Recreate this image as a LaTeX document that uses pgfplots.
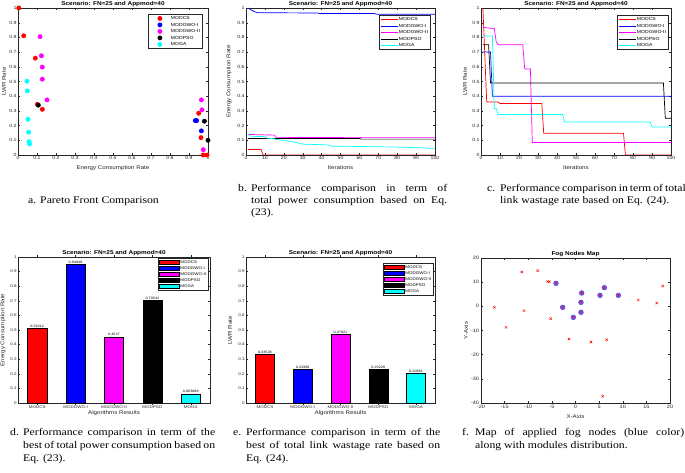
\documentclass[border=0pt]{standalone}
\usepackage{fontspec}
\setmainfont{Liberation Serif}[FakeStretch=1.15]
\setsansfont{Liberation Sans}[FakeStretch=1.15]
\usepackage{pgfplots}
\pgfplotsset{compat=1.18}
\newcommand\tickf{\sffamily\fontsize{4.5}{5}\selectfont}
\newcommand\tickfs{\sffamily\fontsize{3.9}{4.5}\selectfont}
\newcommand\tickfl{\sffamily\fontsize{4.8}{5.5}\selectfont}
\newcommand\labf{\sffamily\fontsize{5.4}{6}\selectfont}
\newcommand\titf{\sffamily\bfseries\fontsize{5.6}{6.5}\selectfont}
\newcommand\legf{\sffamily\fontsize{4.4}{5}\selectfont}
\newcommand\legfs{\sffamily\fontsize{3.9}{4.5}\selectfont}
\newcommand\valf{\sffamily\fontsize{3.3}{4}\selectfont}
\newcommand\capf{\rmfamily\fontsize{10.2}{12}\selectfont}
\definecolor{axgray}{gray}{0.15}
\definecolor{mred}{rgb}{1,0,0}
\definecolor{mblue}{rgb}{0,0,1}
\definecolor{mmag}{rgb}{1,0,1}
\definecolor{mcyan}{rgb}{0,1,1}
\definecolor{mcirc}{rgb}{0.42,0.42,0.95}
\pgfplotsset{
  mat/.style={
    scale only axis,
    axis line style={draw=axgray, line width=0.4pt},
    every tick/.style={draw=axgray, line width=0.35pt},
    major tick length=2pt,
    tick align=inside,
    ticklabel style={font=\tickf, text=axgray},
    /pgf/number format/assume math mode=true,
    xticklabel style={inner sep=1pt},
    yticklabel style={inner sep=1.2pt},
    label style={font=\labf, text=axgray},
    every axis title shift=0pt,
    title style={font=\titf, inner sep=0pt, yshift=1.5pt},
    legend style={font=\legf, draw=axgray, line width=0.35pt, inner sep=1pt, row sep=0pt,
       nodes={inner sep=0.9pt, text height=3.6pt, text depth=1.1pt}, cells={anchor=west}},
  },
}
\begin{document}
\begin{tikzpicture}[x=1pt,y=1pt]
\useasboundingbox (0,0) rectangle (685,-473);
% ---------------- a ----------------
\begin{axis}[mat, at={(18pt,-155pt)}, anchor=south west, width=190pt, height=147pt,
  xmin=0,xmax=1,ymin=0,ymax=1,
  xtick={0,0.1,0.2,0.3,0.4,0.5,0.6,0.7,0.8,0.9,1},
  ytick={0,0.1,0.2,0.3,0.4,0.5,0.6,0.7,0.8,0.9,1},
  title={Scenario: FN=25 and Appmod=40},
  xlabel={Energy Consumption Rate}, ylabel={LWR Rate},
  xlabel style={at={([yshift=-13pt]axis description cs:0.5,0)}, anchor=center},
  ylabel style={at={([xshift=-14pt]axis description cs:0,0.5)}, anchor=center},
  legend style={at={([xshift=-6pt,yshift=-6pt]axis description cs:1,1)}, anchor=north east},
  legend image code/.code={\path (0pt,0pt) (21pt,0pt); \draw[#1,only marks] plot coordinates {(11pt,0pt)};},
  clip=false]
\addplot[only marks, mark=*, mark size=2.2pt, mred] coordinates {
 (0.004,1.0) (0.03,0.811) (0.091,0.659) (0.102,0.345) (0.128,0.311) (0.951,0.284) (0.963,0.118) (0.975,0) (0.995,0)};
\addplot[only marks, mark=*, mark size=2.2pt, mblue] coordinates {
 (0.933,0.234) (0.94,0.234) (0.965,0.164)};
\addplot[only marks, mark=*, mark size=2.2pt, mmag] coordinates {
 (0.116,0.805) (0.123,0.675) (0.128,0.598) (0.128,0.516) (0.153,0.375) (0.965,0.375) (0.968,0.307) (0.975,0.036)};
\addplot[only marks, mark=*, mark size=2.2pt, black] coordinates {
 (0.107,0.339) (0.981,0.23) (1.0,0.1)};
\addplot[only marks, mark=*, mark size=2.2pt, mcyan] coordinates {
 (0.047,0.502) (0.049,0.436) (0.053,0.243) (0.056,0.155) (0.058,0.091) (0.061,0.075)};
\legend{MODCS,MODGWO-I,MODGWO-II,MODPSO,MOGA}
\end{axis}
% ---------------- b ----------------
\begin{axis}[mat, at={(246pt,-155pt)}, anchor=south west, width=189pt, height=147pt,
  xmin=0,xmax=100,ymin=0,ymax=1,
  xtick={0,10,20,30,40,50,60,70,80,90,100},
  ytick={0,0.1,0.2,0.3,0.4,0.5,0.6,0.7,0.8,0.9,1},
  title={Scenario: FN=25 and Appmod=40},
  xlabel={Iterations}, ylabel={Energy Consumption Rate},
  xlabel style={at={([yshift=-13pt]axis description cs:0.5,0)}, anchor=center},
  ylabel style={at={([xshift=-17pt]axis description cs:0,0.5)}, anchor=center},
  legend style={at={([xshift=-5pt,yshift=-7pt]axis description cs:1,1)}, anchor=north east}]
\addplot[mred, line width=0.7pt] coordinates {(1,0.037) (8,0.037) (9,0) (100,0)};
\addplot[mblue, line width=0.7pt] coordinates {(1,1.0) (3,0.985) (5,0.972) (6,0.968) (38,0.966) (39,0.962) (68,0.962) (69,0.957) (100,0.957)};
\addplot[mmag, line width=0.7pt] coordinates {(1,0.14) (15,0.135) (16,0.12) (60,0.118) (61,0.12) (100,0.12)};
\addplot[black, line width=0.7pt] coordinates {(1,0.112) (60,0.112) (61,0.108) (100,0.108)};
\addplot[mcyan, line width=0.7pt] coordinates {(1,0.145) (2,0.13) (3,0.127) (10,0.125) (11,0.115) (15,0.11) (16,0.105) (20,0.1) (22,0.095) (25,0.09) (28,0.08) (30,0.074) (40,0.07) (44,0.068) (45,0.06) (60,0.058) (75,0.055) (85,0.052) (90,0.05) (95,0.048) (100,0.045)};
\legend{MODCS,MODGWO-I,MODGWO-II,MODPSO,MOGA}
\end{axis}
% ---------------- c ----------------
\begin{axis}[mat, at={(481pt,-155pt)}, anchor=south west, width=190pt, height=147pt,
  xmin=0,xmax=100,ymin=0,ymax=1,
  xtick={0,10,20,30,40,50,60,70,80,90,100},
  ytick={0,0.1,0.2,0.3,0.4,0.5,0.6,0.7,0.8,0.9,1},
  title={Scenario: FN=25 and Appmod=40},
  xlabel={Iterations}, ylabel={LWR Rate},
  xlabel style={at={([yshift=-13pt]axis description cs:0.5,0)}, anchor=center},
  ylabel style={at={([xshift=-16pt]axis description cs:0,0.5)}, anchor=center},
  legend style={at={([xshift=-3pt,yshift=-7pt]axis description cs:1,1)}, anchor=north east}]
\addplot[mred, line width=0.7pt] coordinates {(1,1.0) (3,0.36) (9,0.36) (10,0.35) (32,0.35) (33,0.148) (75,0.148) (76,0) (100,0)};
\addplot[mblue, line width=0.7pt] coordinates {(1,0.70) (5,0.70) (6,0.40) (100,0.40)};
\addplot[mmag, line width=0.7pt] coordinates {(1,0.87) (3,0.865) (7,0.86) (8,0.77) (9,0.75) (22,0.75) (23,0.585) (26,0.585) (27,0.085) (100,0.085)};
\addplot[black, line width=0.7pt] coordinates {(1,0.75) (4,0.75) (5,0.49) (96,0.49) (97,0.25) (100,0.25)};
\addplot[mcyan, line width=0.7pt] coordinates {(1,0.81) (6,0.81) (7,0.315) (8,0.315) (9,0.275) (43,0.275) (44,0.225) (89,0.225) (90,0.19) (100,0.19)};
\legend{MODCS,MODGWO-I,MODGWO-II,MODPSO,MOGA}
\end{axis}
% ---------------- d ----------------
\begin{axis}[mat, at={(18pt,-403pt)}, anchor=south west, width=192pt, height=146pt,
  xmin=0.5,xmax=5.5,ymin=0,ymax=1,
  ybar, bar width=0.5,
  xtick={1,2,3,4,5}, xticklabels={MODCS,MODGWO-I,MODGWO-II,MODPSO,MOGA},
  ytick={0,0.1,0.2,0.3,0.4,0.5,0.6,0.7,0.8,0.9,1},
  ticklabel style={font=\tickfs},
  title={Scenario: FN=25 and Appmod=40},
  xlabel={Algorithms Results}, ylabel={Energy Consumption Rate},
  xlabel style={at={([yshift=-10pt]axis description cs:0.5,0)}, anchor=center},
  ylabel style={at={([xshift=-15pt]axis description cs:0,0.5)}, anchor=center},
  legend style={font=\legfs, at={([xshift=-2pt,yshift=-1pt]axis description cs:1,1)}, anchor=north east,
     nodes={inner sep=0.8pt, text height=3.3pt, text depth=1.1pt}},
  legend image code/.code={\draw[#1,/tikz/.cd] (0pt,-2pt) rectangle (20pt,2.4pt);},
  nodes near coords, point meta=explicit symbolic,
  every node near coord/.append style={font=\valf, inner sep=0.6pt, text=black}]
\addplot[bar shift=0pt, fill=mred, draw=black, line width=0.4pt] coordinates {(1,0.51012) [0.51012]};
\addplot[bar shift=0pt, fill=mblue, draw=black, line width=0.4pt] coordinates {(2,0.94948) [0.94948]};
\addplot[bar shift=0pt, fill=mmag, draw=black, line width=0.4pt] coordinates {(3,0.4537) [0.4537]};
\addplot[bar shift=0pt, fill=black, draw=black, line width=0.4pt] coordinates {(4,0.70541) [0.70541]};
\addplot[bar shift=0pt, fill=mcyan, draw=black, line width=0.4pt] coordinates {(5,0.063688) [0.063688]};
\legend{MODCS,MODGWO-I,MODGWO-II,MODPSO,MOGA}
\end{axis}
% ---------------- e ----------------
\begin{axis}[mat, at={(246pt,-403pt)}, anchor=south west, width=189pt, height=146pt,
  xmin=0.5,xmax=5.5,ymin=0,ymax=1,
  ybar, bar width=0.5,
  xtick={1,2,3,4,5}, xticklabels={MODCS,MODGWO-I,MODGWO-II,MODPSO,MOGA},
  ytick={0,0.1,0.2,0.3,0.4,0.5,0.6,0.7,0.8,0.9,1},
  ticklabel style={font=\tickfs},
  title={Scenario: FN=25 and Appmod=40},
  xlabel={Algorithms Results}, ylabel={LWR Rate},
  xlabel style={at={([yshift=-10pt]axis description cs:0.5,0)}, anchor=center},
  ylabel style={at={([xshift=-16pt]axis description cs:0,0.5)}, anchor=center},
  legend style={font=\legfs, at={([xshift=-2pt,yshift=-6pt]axis description cs:1,1)}, anchor=north east,
     nodes={inner sep=0.8pt, text height=3.3pt, text depth=1.1pt}},
  legend image code/.code={\draw[#1,/tikz/.cd] (0pt,-2pt) rectangle (20pt,2.4pt);},
  nodes near coords, point meta=explicit symbolic,
  every node near coord/.append style={font=\valf, inner sep=0.6pt, text=black}]
\addplot[bar shift=0pt, fill=mred, draw=black, line width=0.4pt] coordinates {(1,0.33528) [0.33528]};
\addplot[bar shift=0pt, fill=mblue, draw=black, line width=0.4pt] coordinates {(2,0.23368) [0.23368]};
\addplot[bar shift=0pt, fill=mmag, draw=black, line width=0.4pt] coordinates {(3,0.47021) [0.47021]};
\addplot[bar shift=0pt, fill=black, draw=black, line width=0.4pt] coordinates {(4,0.23228) [0.23228]};
\addplot[bar shift=0pt, fill=mcyan, draw=black, line width=0.4pt] coordinates {(5,0.20581) [0.20581]};
\legend{MODCS,MODGWO-I,MODGWO-II,MODPSO,MOGA}
\end{axis}
% ---------------- f ----------------
\begin{axis}[mat, at={(481pt,-403pt)}, anchor=south west, width=189pt, height=145pt,
  xmin=-20,xmax=20,ymin=-40,ymax=20,
  xtick={-20,-15,-10,-5,0,5,10,15,20}, ytick={-40,-30,-20,-10,0,10,20},
  ticklabel style={font=\tickfl},
  xticklabel style={inner sep=1.5pt},
  yticklabel style={inner sep=1.8pt},
  title={Fog Nodes Map},
  xlabel={X-Axis}, ylabel={Y-Axis},
  xlabel style={at={([yshift=-14pt]axis description cs:0.5,0)}, anchor=center},
  ylabel style={at={([xshift=-15pt]axis description cs:0,0.5)}, anchor=center},
  clip=false]
\addplot[only marks, mark=*, mark size=2.4pt, mark options={draw=mblue!80, fill=mcirc}] coordinates {
 (-4.13,9.52) (-2.72,-0.41) (-0.46,-4.55) (1.31,5.52) (1.16,1.66) (1.16,-2.48) (5.19,4.55) (6.10,7.72) (9.07,4.55)};
\addplot[only marks, mark=x, mark size=1.7pt, mred, mark options={line width=0.45pt}] coordinates {
 (-17.18,-0.41) (-14.71,-8.69) (-11.39,14.21) (-10.90,-1.79) (-8.01,14.76) (-5.89,10.21) (-5.54,10.21)
 (-5.26,-5.10) (-4.13,9.52) (-2.72,-0.41) (-1.38,-13.52) (-0.46,-4.55) (1.31,5.52) (1.16,1.66)
 (1.16,-2.48) (3.28,-14.76) (5.19,4.55) (6.10,7.72) (6.60,-13.79) (5.75,-37.24) (9.07,4.55)
 (13.30,2.62) (17.18,1.38) (18.45,8.41)};
\end{axis}
% ---------------- captions ----------------
\begin{scope}[every node/.style={anchor=base west, inner sep=0pt, font=\capf}]
\node at (28,-203.5) {a. Pareto Front Comparison};
\node at (238,-192) {b.};
\node at (251,-192) {\makebox[196pt][s]{Performance comparison in term of}};
\node at (251,-203.5) {\makebox[196pt][s]{total power consumption based on Eq.}};
\node at (251,-215) {(23).};
\node at (487,-192) {c.};
\node at (500,-192) {\makebox[184pt][s]{Performance comparison in term of total}};
\node at (500,-203.5) {link wastage rate based on Eq. (24).};
\node at (10,-435) {d.};
\node at (23,-435) {\makebox[192pt][s]{Performance comparison in term of the}};
\node at (23,-448) {\makebox[192pt][s]{best of total power consumption based on}};
\node at (23,-461) {Eq. (23).};
\node at (233,-435) {e.};
\node at (246,-435) {\makebox[194pt][s]{Performance comparison in term of the}};
\node at (246,-448) {\makebox[194pt][s]{best of total link wastage rate based on}};
\node at (246,-461) {Eq. (24).};
\node at (462,-435) {f.};
\node at (475,-435) {\makebox[209pt][s]{Map of applied fog nodes (blue color)}};
\node at (475,-448) {along with modules distribution.};
\end{scope}
\end{tikzpicture}
\end{document}
